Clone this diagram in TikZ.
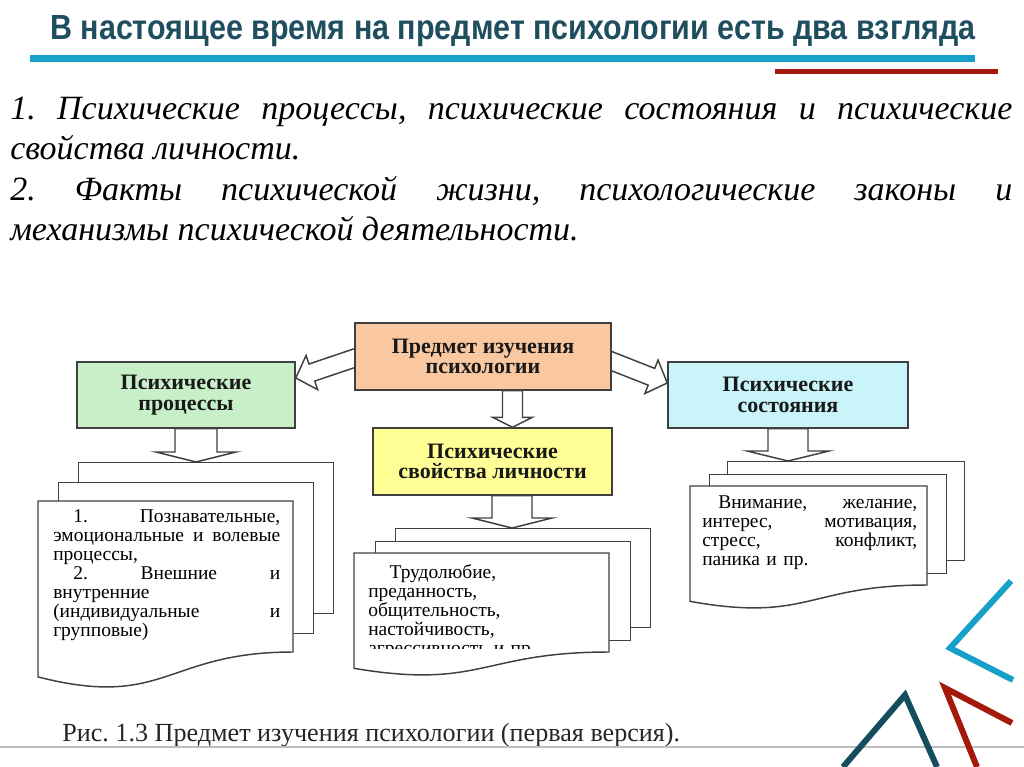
\documentclass[tikz,border=0pt]{standalone}
\usepackage{fontspec}
\usepackage{graphicx}
\usepackage{xcolor}
\setmainfont{Liberation Serif}
\newfontfamily\headfont{Liberation Sans}
\usetikzlibrary{calc,positioning,backgrounds}

\definecolor{titleteal}{RGB}{31,78,95}
\definecolor{lineblue}{RGB}{23,160,200}
\definecolor{linered}{RGB}{165,25,12}
\definecolor{darkteal}{RGB}{20,78,94}
\definecolor{rulegray}{RGB}{190,190,190}
\definecolor{peach}{RGB}{250,200,160}
\definecolor{palegreen}{RGB}{200,240,200}
\definecolor{palecyan}{RGB}{200,244,250}
\definecolor{paleyellow}{RGB}{255,255,150}

% one pixel of the slide
\newcommand\pxu{0.75pt}

% three sheets, the front one with a wavy bottom
\newcommand\docstack[7]{%
  \node[sheet, minimum width=#4*\pxu, minimum height=#5*\pxu] (#1back) at (#2+2*#6,#3-2*#7) {};
  \node[sheet, minimum width=#4*\pxu, minimum height=#5*\pxu] (#1mid) at (#2+#6,#3-#7) {};
  \draw[sheetline] (#2,#3) -- (#2+#4,#3) -- (#2+#4,#3+#5)
    .. controls (#2+0.5*#4,#3+#5) and (#2+0.5*#4,#3+1.381*#5) .. (#2,#3+1.165*#5) -- cycle;
}

% hollow block arrow: from, to, shaft half width, head half width, head length
\newcommand\blockarrow[5]{%
  \draw[blockarr] ($(#1)!#3*\pxu!90:(#2)$) -- ($(#2)!#5*\pxu!(#1)!#3*\pxu!90:(#2)$)
    -- ($(#2)!#5*\pxu!(#1)!#4*\pxu!90:(#2)$) -- (#2)
    -- ($(#2)!#5*\pxu!(#1)!#4*\pxu!-90:(#2)$) -- ($(#2)!#5*\pxu!(#1)!#3*\pxu!-90:(#2)$)
    -- ($(#1)!#3*\pxu!-90:(#2)$) -- cycle;
}

\frenchspacing
\begin{document}
\begin{tikzpicture}[x=0.75pt, y=-0.75pt,
  box/.style={draw=black!75, line width=1.1pt, minimum height=66*\pxu, align=center, text=black!90,
    font=\fontsize{16.5}{15.5}\selectfont\bfseries},
  sheet/.style={draw=black!75, line width=1.1pt, fill=white, anchor=north west, inner sep=0pt},
  sheetline/.style={draw=black!75, line width=1.1pt, fill=white},
  blockarr/.style={draw=black!75, line width=1.1pt, fill=white, line join=miter},
  doctext/.style={anchor=north west, inner sep=0pt, align=left, font=\fontsize{14.6}{14.25}\selectfont},
  view/.style={anchor=base west, inner sep=0pt, font=\fontsize{25.5}{28}\selectfont\itshape}
]
\useasboundingbox (0,0) rectangle (1024,767);

% heading
\node[anchor=base west, inner sep=0pt, text=titleteal] (title) at (50,40)
  {\resizebox{693.75pt}{18pt}{\headfont\bfseries В настоящее время на предмет психологии есть два взгляда}};
\draw[lineblue, line width=7*\pxu] (30,59) -- (975,59);
\draw[linered, line width=5*\pxu] (775,72) -- (998,72);

% the two views
\node[view] (view1a) at (10,119) {\makebox[751.5pt][s]{1. Психические процессы, психические состояния и психические}};
\node[view] (view1b) at (10,159) {свойства личности.};
\node[view] (view2a) at (10,200) {\makebox[751.5pt][s]{2. Факты психической жизни, психологические законы и}};
\node[view] (view2b) at (10,240) {механизмы психической деятельности.};

% boxes
\node[box, fill=peach, minimum width=256*\pxu, minimum height=67*\pxu] (subject) at (483,356.5) {Предмет изучения\\психологии};
\node[box, fill=palegreen, minimum width=218*\pxu] (processes) at (186,395) {Психические\\процессы};
\node[box, fill=palecyan, minimum width=240*\pxu] (states) at (788,395) {Психические\\состояния};
\node[box, fill=paleyellow, minimum width=239*\pxu, minimum height=67*\pxu] (traits) at (492.5,461.5) {Психические\\свойства личности};

\coordinate (subjleft) at ($(subject.west)+(8,-1)$);
\coordinate (proctip) at ($(processes.east)+(0,-17)$);
\coordinate (subjright) at ($(subject.east)+(-8,1.5)$);
\coordinate (statetip) at ($(states.west)+(0,-12)$);
\begin{pgfonlayer}{background}
  \blockarrow{subjleft}{proctip}{9}{18}{17}
  \blockarrow{subjright}{statetip}{9}{18}{17}
\end{pgfonlayer}
\coordinate (subjdrop) at ($(subject.south)+(29.5,0)$);
\coordinate (subjtip) at (subjdrop |- traits.north);
\blockarrow{subjdrop}{subjtip}{10}{20}{10}

% sheets
\docstack{proc}{38}{501}{255}{151}{20}{19.5}
\docstack{trait}{354}{553}{255}{99}{20.5}{12.5}
\docstack{state}{690}{486}{237}{99}{18.5}{12.5}

\node[doctext, text width=227*\pxu] (proctext) at (53,509)
  {\hspace*{15pt}1.\hfill Познавательные,\\
   эмоциональные\hfill и\hfill волевые\\
   процессы,\\
   \hspace*{15pt}2.\hfill Внешние\hfill и\\
   внутренние\\
   (индивидуальные\hfill и\\
   групповые)};
\begin{scope}
  \clip (354,553) rectangle (609,648);
  \node[doctext, text width=230*\pxu] (traittext) at (368,564)
    {\hspace*{16pt}Трудолюбие,\\
     преданность,\\
     общительность,\\
     настойчивость,\\
     агрессивность и пр.};
\end{scope}
\node[doctext, text width=215*\pxu] (statetext) at (702,495)
  {\hspace*{12pt}Внимание,\hfill желание,\\
   интерес,\hfill мотивация,\\
   стресс,\hfill конфликт,\\
   паника и пр.};

\coordinate (procdrop) at ($(processes.south)+(10,0)$);
\coordinate (procsheet) at (procdrop |- procback.north);
\blockarrow{procdrop}{procsheet}{21}{40}{10}
\coordinate (traitdrop) at ($(traits.south)+(19.5,0)$);
\coordinate (traitsheet) at (traitdrop |- traitback.north);
\blockarrow{traitdrop}{traitsheet}{20}{40}{10}
\coordinate (statedrop) at (states.south);
\coordinate (statesheet) at (statedrop |- stateback.north);
\blockarrow{statedrop}{statesheet}{20}{41}{10}

% caption
\node[anchor=base west, inner sep=0pt, text=black!85, font=\fontsize{19.6}{19.6}\selectfont] (caption) at (62,741)
  {Рис. 1.3 Предмет изучения психологии (первая версия).};
\draw[rulegray, line width=2*\pxu] (0,747) -- (1024,747);

% corner strokes
\draw[lineblue, line width=6*\pxu] (1011,581) -- (950,648) -- (1013,680);
\draw[darkteal, line width=6*\pxu] (843,767) -- (905,695) -- (937,767);
\draw[linered, line width=6*\pxu] (977,767) -- (945,688) -- (1012,723);
\end{tikzpicture}
\end{document}
